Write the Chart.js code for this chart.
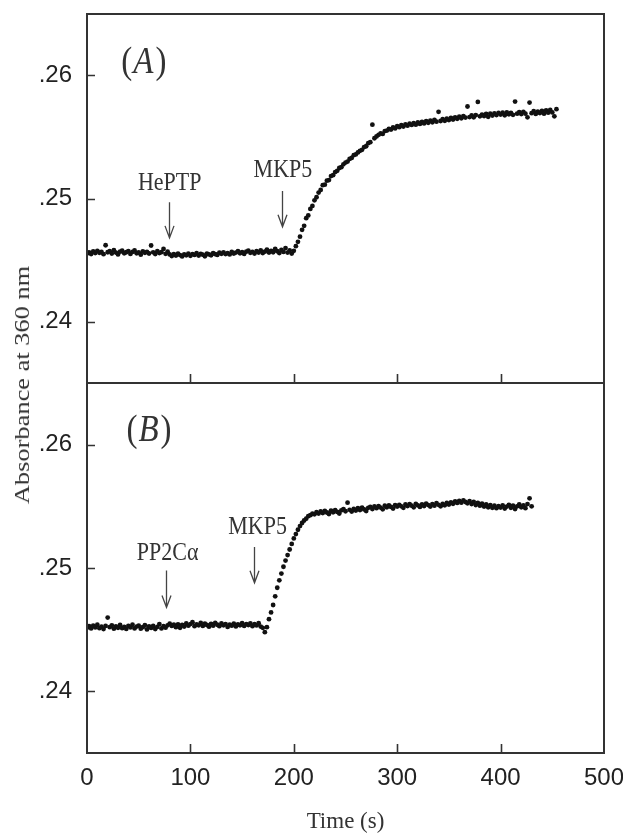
<!DOCTYPE html>
<html><head><meta charset="utf-8">
<script src="https://cdn.jsdelivr.net/npm/chart.js@4"></script>
<style>
html,body{margin:0;padding:0;background:#fff;}
#wrap{position:relative;width:623px;height:834px;overflow:hidden;background:#fff;}
#cA{position:absolute;left:0;top:0;}
#cB{position:absolute;left:0;top:370px;}
#ytitle{position:absolute;left:22px;top:385px;font-family:'Liberation Serif','Times New Roman',serif;font-size:22px;color:#333;white-space:nowrap;line-height:1;transform:translate(-50%,-50%) rotate(-90deg) scaleX(1.2);}
</style></head>
<body>
<div id="wrap">
<canvas id="cA" width="623" height="400"></canvas>
<canvas id="cB" width="623" height="464"></canvas>
<div id="ytitle">Absorbance at 360 nm</div>
</div>
<script>
// ---------- data ----------
const xTickValues = [0, 100, 200, 300, 400, 500];
const yTickValues = [0.24, 0.25, 0.26];

const timeA = [
0,2,4,6,8,10,12,14,16,18,20,22,24,26,28,30,32,34,36,38,
40,42,44,46,48,50,52,54,56,58,60,62,64,66,68,70,72,74,76,78,
80,82,84,86,88,90,92,94,96,98,100,102,104,106,108,110,112,114,116,118,
120,122,124,126,128,130,132,134,136,138,140,142,144,146,148,150,152,154,156,158,
160,162,164,166,168,170,172,174,176,178,180,182,184,186,188,190,192,194,196,198,
200,202,204,206,208,210,212,214,216,218,220,222,224,226,228,230,232,234,236,238,
240,242,244,246,248,250,252,254,256,258,260,262,264,266,268,270,272,274,276,278,
280,282,284,286,288,290,292,294,296,298,300,302,304,306,308,310,312,314,316,318,
320,322,324,326,328,330,332,334,336,338,340,342,344,346,348,350,352,354,356,358,
360,362,364,366,368,370,372,374,376,378,380,382,384,386,388,390,392,394,396,398,
400,402,404,406,408,410,412,414,416,418,420,422,424,426,428,430,432,434,436,438,
440,442,444,446,448,450,452,454];

const absorbanceA = [
0.24552,0.24561,0.24548,0.24570,0.24556,0.24575,0.24559,0.24566,0.24547,0.24620,
0.24563,0.24571,0.24552,0.24580,0.24560,0.24545,0.24568,0.24576,0.24555,0.24563,
0.24572,0.24549,0.24566,0.24578,0.24554,0.24561,0.24543,0.24570,0.24558,0.24566,
0.24553,0.24618,0.24562,0.24548,0.24571,0.24557,0.24564,0.24590,0.24550,0.24567,
0.24545,0.24532,0.24548,0.24536,0.24551,0.24540,0.24529,0.24546,0.24538,0.24552,
0.24534,0.24547,0.24541,0.24555,0.24536,0.24549,0.24543,0.24530,0.24552,0.24545,
0.24538,0.24556,0.24547,0.24541,0.24559,0.24550,0.24562,0.24548,0.24556,0.24545,
0.24565,0.24553,0.24560,0.24571,0.24555,0.24563,0.24549,0.24568,0.24576,0.24558,
0.24566,0.24553,0.24572,0.24561,0.24579,0.24557,0.24568,0.24585,0.24560,0.24574,
0.24563,0.24590,0.24571,0.24556,0.24582,0.24566,0.24597,0.24560,0.24578,0.24552,
0.24575,0.24612,0.24648,0.24690,0.24745,0.24778,0.24840,0.24862,0.24915,0.24940,
0.24985,0.25010,0.25048,0.25070,0.25108,0.25112,0.25145,0.25150,0.25182,0.25190,
0.25215,0.25225,0.25248,0.25255,0.25278,0.25292,0.25300,0.25322,0.25330,0.25352,
0.25358,0.25375,0.25388,0.25396,0.25418,0.25425,0.25450,0.25458,0.25600,0.25490,
0.25505,0.25518,0.25530,0.25525,0.25548,0.25552,0.25565,0.25560,0.25578,0.25570,
0.25588,0.25580,0.25596,0.25585,0.25603,0.25592,0.25608,0.25598,0.25612,0.25600,
0.25618,0.25606,0.25622,0.25610,0.25628,0.25616,0.25632,0.25620,0.25640,0.25625,
0.25705,0.25630,0.25645,0.25632,0.25650,0.25638,0.25655,0.25642,0.25660,0.25648,
0.25665,0.25652,0.25670,0.25658,0.25748,0.25662,0.25675,0.25660,0.25678,0.25785,
0.25668,0.25682,0.25670,0.25688,0.25664,0.25690,0.25675,0.25692,0.25678,0.25696,
0.25682,0.25698,0.25676,0.25700,0.25684,0.25695,0.25680,0.25788,0.25690,0.25702,
0.25686,0.25705,0.25690,0.25660,0.25780,0.25694,0.25710,0.25688,0.25706,0.25695,
0.25712,0.25690,0.25716,0.25698,0.25720,0.25700,0.25668,0.25726];

const timeB = [
0,2,4,6,8,10,12,14,16,18,20,22,24,26,28,30,32,34,36,38,
40,42,44,46,48,50,52,54,56,58,60,62,64,66,68,70,72,74,76,78,
80,82,84,86,88,90,92,94,96,98,100,102,104,106,108,110,112,114,116,118,
120,122,124,126,128,130,132,134,136,138,140,142,144,146,148,150,152,154,156,158,
160,162,164,166,168,170,172,174,176,178,180,182,184,186,188,190,192,194,196,198,
200,202,204,206,208,210,212,214,216,218,220,222,224,226,228,230,232,234,236,238,
240,242,244,246,248,250,252,254,256,258,260,262,264,266,268,270,272,274,276,278,
280,282,284,286,288,290,292,294,296,298,300,302,304,306,308,310,312,314,316,318,
320,322,324,326,328,330,332,334,336,338,340,342,344,346,348,350,352,354,356,358,
360,362,364,366,368,370,372,374,376,378,380,382,384,386,388,390,392,394,396,398,
400,402,404,406,408,410,412,414,416,418,420,422,424,426,428,430];

const absorbanceB = [
0.24515,0.24528,0.24510,0.24532,0.24518,0.24540,0.24512,0.24525,0.24505,0.24530,
0.24598,0.24520,0.24535,0.24508,0.24526,0.24515,0.24538,0.24512,0.24522,0.24506,
0.24530,0.24518,0.24540,0.24510,0.24525,0.24532,0.24508,0.24520,0.24536,0.24502,
0.24526,0.24514,0.24530,0.24505,0.24522,0.24545,0.24510,0.24528,0.24516,0.24535,
0.24548,0.24530,0.24540,0.24520,0.24542,0.24515,0.24538,0.24525,0.24550,0.24532,
0.24545,0.24560,0.24528,0.24542,0.24535,0.24555,0.24530,0.24548,0.24538,0.24524,
0.24546,0.24532,0.24555,0.24540,0.24528,0.24550,0.24536,0.24545,0.24522,0.24540,
0.24532,0.24548,0.24526,0.24542,0.24535,0.24552,0.24530,0.24545,0.24538,0.24550,
0.24528,0.24544,0.24534,0.24552,0.24525,0.24515,0.24480,0.24520,0.24585,0.24640,
0.24700,0.24770,0.24840,0.24900,0.24955,0.25010,0.25060,0.25105,0.25150,0.25195,
0.25240,0.25275,0.25310,0.25340,0.25365,0.25385,0.25400,0.25420,0.25428,0.25440,
0.25436,0.25452,0.25441,0.25458,0.25446,0.25462,0.25450,0.25438,0.25465,0.25452,
0.25470,0.25455,0.25442,0.25468,0.25478,0.25460,0.25530,0.25472,0.25458,0.25480,
0.25466,0.25485,0.25470,0.25490,0.25475,0.25462,0.25488,0.25495,0.25478,0.25500,
0.25485,0.25502,0.25490,0.25476,0.25505,0.25492,0.25508,0.25495,0.25482,0.25510,
0.25498,0.25512,0.25500,0.25488,0.25515,0.25502,0.25518,0.25505,0.25492,0.25520,
0.25508,0.25495,0.25515,0.25502,0.25522,0.25510,0.25498,0.25518,0.25505,0.25525,
0.25512,0.25500,0.25520,0.25508,0.25528,0.25515,0.25532,0.25520,0.25540,0.25528,
0.25545,0.25530,0.25548,0.25535,0.25525,0.25542,0.25518,0.25535,0.25510,0.25528,
0.25505,0.25522,0.25498,0.25515,0.25492,0.25510,0.25488,0.25505,0.25485,0.25502,
0.25490,0.25508,0.25482,0.25498,0.25512,0.25488,0.25505,0.25478,0.25500,0.25515,
0.25492,0.25508,0.25485,0.25518,0.25565,0.25500];

// annotations (data coordinates)
const notesA = [
  {text: 'HePTP', time: 80, value: 0.2512, arrowTime: 79.5, arrowFrom: 0.2497, arrowTo: 0.2468},
  {text: 'MKP5', time: 189.5, value: 0.2523, arrowTime: 189, arrowFrom: 0.2506, arrowTo: 0.2477}
];
const notesB = [
  {text: 'PP2C\u03B1', time: 78, value: 0.2512, arrowTime: 76.5, arrowFrom: 0.2498, arrowTo: 0.2468},
  {text: 'MKP5', time: 165, value: 0.2533, arrowTime: 161.5, arrowFrom: 0.2517, arrowTo: 0.2488}
];
const panelA = {letter: 'A', time: 55, value: 0.2610};
const panelB = {letter: 'B', time: 60, value: 0.2611};

// ---------- drawing ----------
const INK = '#333';
const SERIF = "'Liberation Serif','Times New Roman',serif";
const SANS = "'Liberation Sans',Arial,sans-serif";
const STRETCH = 1.15;

function stretchedText(ctx, text, x, y) {
  ctx.save();
  ctx.translate(x, y);
  ctx.scale(1, STRETCH);
  ctx.fillText(text, 0, 0);
  ctx.restore();
}

const framePlugin = {
  id: 'frame',
  afterDatasetsDraw(chart, args, opts) {
    const {ctx, chartArea: a, scales: {x, y}} = chart;
    ctx.save();
    ctx.strokeStyle = INK;
    ctx.lineWidth = 2;
    ctx.strokeRect(a.left, a.top, a.right - a.left, a.bottom - a.top);
    ctx.lineWidth = 1.6;
    ctx.beginPath();
    yTickValues.forEach(v => {
      const py = Math.round(y.getPixelForValue(v)) + 0.5;
      ctx.moveTo(a.left, py); ctx.lineTo(a.left + 8, py);
    });
    xTickValues.forEach(v => {
      if (v <= x.min || v >= x.max) return;
      const px = Math.round(x.getPixelForValue(v)) + 0.5;
      ctx.moveTo(px, a.bottom); ctx.lineTo(px, a.bottom - 9);
    });
    ctx.stroke();

    // annotations
    ctx.fillStyle = INK;
    ctx.strokeStyle = '#444';
    ctx.lineWidth = 1.3;
    ctx.font = '22px ' + SERIF;
    ctx.textAlign = 'center';
    ctx.textBaseline = 'middle';
    (opts.notes || []).forEach(n => {
      stretchedText(ctx, n.text, x.getPixelForValue(n.time), y.getPixelForValue(n.value));
      const ax = Math.round(x.getPixelForValue(n.arrowTime)) + 0.5;
      const y1 = y.getPixelForValue(n.arrowFrom), y2 = y.getPixelForValue(n.arrowTo);
      ctx.beginPath();
      ctx.moveTo(ax, y1); ctx.lineTo(ax, y2);
      ctx.moveTo(ax - 4.5, y2 - 12); ctx.lineTo(ax, y2); ctx.lineTo(ax + 4.5, y2 - 12);
      ctx.stroke();
    });

    // panel letter "(A)" with italic letter
    const p = opts.panel;
    if (p) {
      const cx = x.getPixelForValue(p.time), cy = y.getPixelForValue(p.value);
      ctx.textAlign = 'left';
      ctx.textBaseline = 'middle';
      const fN = '33px ' + SERIF, fI = 'italic 33px ' + SERIF;
      ctx.font = fN; const wo = ctx.measureText('(').width, wc = ctx.measureText(')').width;
      ctx.font = fI; const wl = ctx.measureText(p.letter).width + 3;
      let sx = cx - (wo + wl + wc) / 2;
      ctx.font = fN; stretchedText(ctx, '(', sx, cy);
      ctx.font = fI; stretchedText(ctx, p.letter, sx + wo + 1, cy);
      ctx.font = fN; stretchedText(ctx, ')', sx + wo + wl, cy);
    }
    ctx.restore();
  }
};

function yScale() {
  return {
    type: 'linear', min: 0.235, max: 0.265,
    afterBuildTicks: s => { s.ticks = yTickValues.map(v => ({value: v})); },
    afterFit: s => { s.width = 87; s.paddingTop = 0; s.paddingBottom = 0; },
    grid: {display: false, drawTicks: false},
    border: {display: false},
    ticks: {
      padding: 15, color: '#222',
      font: {family: SANS, size: 24},
      callback: v => '.' + Math.round(v * 100)
    }
  };
}

function makeChart(id, times, values, showLabels, notes, panel, padTop, xHeight) {
  const xs = {
    type: 'linear', min: 0, max: 500,
    afterBuildTicks: s => { s.ticks = xTickValues.map(v => ({value: v})); },
    afterFit: s => { s.height = xHeight; s.paddingLeft = 0; s.paddingRight = 0; },
    grid: {display: false, drawTicks: false},
    border: {display: false},
    ticks: {
      display: showLabels, padding: 11, color: '#222', maxRotation: 0, autoSkip: false,
      font: {family: SANS, size: 24}
    },
    title: {
      display: showLabels, text: 'Time (s)', color: INK,
      font: {family: SERIF, size: 23, lineHeight: 1},
      padding: {top: 0, bottom: 1}
    }
  };
  return new Chart(document.getElementById(id), {
    type: 'line',
    data: {
      labels: times,
      datasets: [{
        data: values,
        showLine: false,
        pointRadius: 2.4,
        pointBorderWidth: 0,
        pointBackgroundColor: '#111',
        pointBorderColor: '#111'
      }]
    },
    options: {
      responsive: false,
      animation: false,
      devicePixelRatio: 1,
      layout: {padding: {top: padTop, right: 19, left: 0, bottom: 0}},
      plugins: {
        legend: {display: false},
        tooltip: {enabled: false},
        frame: {notes: notes, panel: panel}
      },
      scales: {x: xs, y: yScale()}
    },
    plugins: [framePlugin]
  });
}

makeChart('cA', timeA, absorbanceA, false, notesA, panelA, 14, 17);
makeChart('cB', timeB, absorbanceB, true, notesB, panelB, 13, 81);
</script>
</body></html>
